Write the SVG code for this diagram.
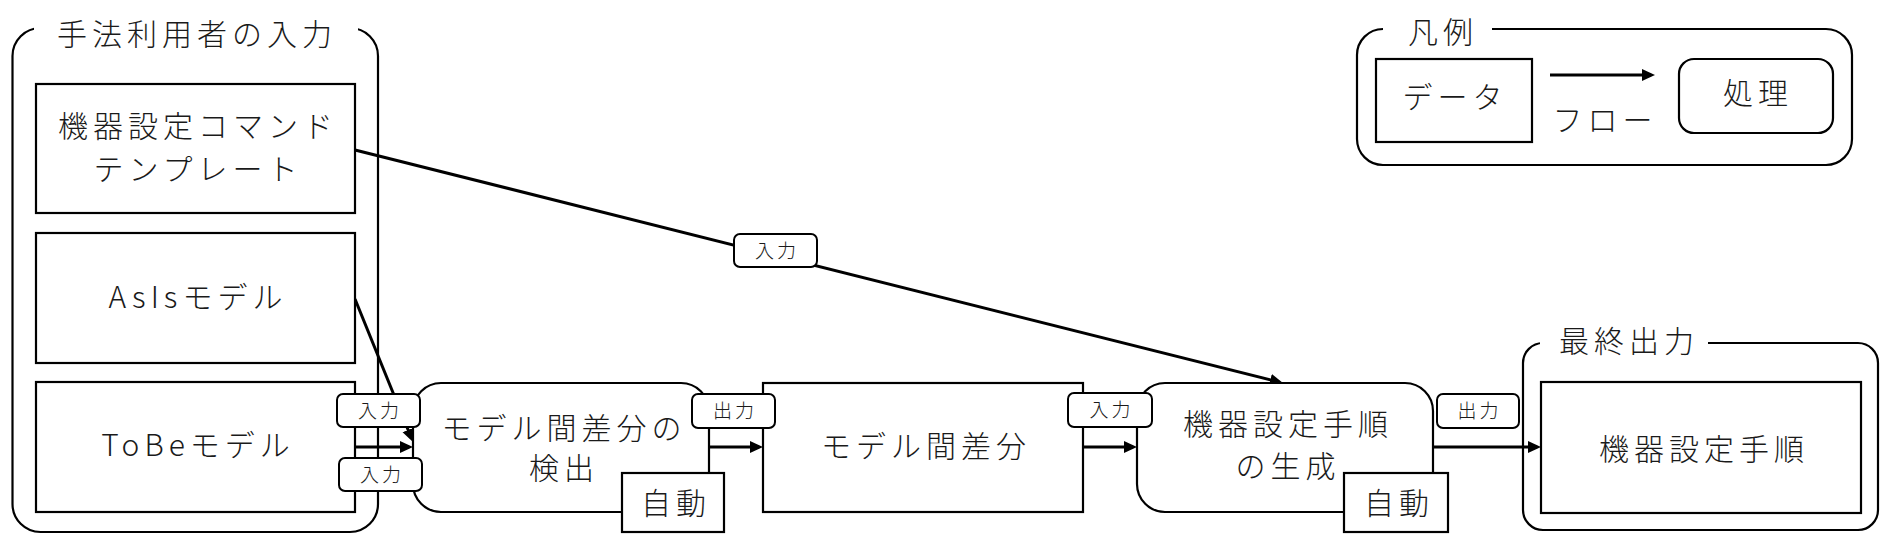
<svg xmlns="http://www.w3.org/2000/svg" width="1890" height="544" viewBox="0 0 1890 544">
<style>
.box{fill:#fff;stroke:#000;stroke-width:2.2}
.grp{fill:none;stroke:#000;stroke-width:2.2}
.t{font-family:"Noto Sans CJK JP","Noto Sans",sans-serif;font-size:30px;font-weight:300;letter-spacing:5px;fill:#1a1a1a;text-anchor:middle}
.lb{fill:#fff;stroke:#000;stroke-width:2}
.lt{font-family:"Noto Sans CJK JP","Noto Sans",sans-serif;font-size:19px;font-weight:300;letter-spacing:3px;fill:#1a1a1a;text-anchor:middle}
.c{fill:none;stroke:#000;stroke-width:3}
.bg{fill:#fff;stroke:none}
</style>
<defs>
<marker id="ah" markerUnits="userSpaceOnUse" markerWidth="16" markerHeight="14" refX="9" refY="6" orient="auto">
<path d="M0,0 L13,6 L0,12 z" fill="#000"/>
</marker>
</defs>
<rect width="1890" height="544" fill="#fff"/>

<g id="group-input">
<rect class="grp" x="12.5" y="28" width="365.5" height="504" rx="28"/>
<rect class="bg" x="34" y="14" width="324" height="28"/>
<text class="t" x="197" y="45">手法利用者の入力</text>
</g>

<g id="group-output">
<rect class="grp" x="1523" y="343" width="355" height="187" rx="20"/>
<rect class="bg" x="1540" y="330" width="168" height="26"/>
<text class="t" x="1629" y="352">最終出力</text>
</g>

<g id="legend">
<rect class="grp" x="1357" y="29" width="495" height="136" rx="26"/>
<rect class="bg" x="1383" y="16" width="109" height="26"/>
<text class="t" x="1443" y="43">凡例</text>
<rect class="box" x="1376" y="59" width="156" height="83"/>
<text class="t" x="1455" y="108">データ</text>
<line class="c" x1="1550" y1="75" x2="1651" y2="75" marker-end="url(#ah)"/>
<text class="t" x="1605" y="131">フロー</text>
<rect class="box" x="1679" y="59" width="154" height="74" rx="15"/>
<text class="t" x="1758" y="104">処理</text>
</g>

<g id="connectors">
<line class="c" x1="355" y1="150" x2="1279.1" y2="382" marker-end="url(#ah)"/>
<line class="c" x1="355" y1="299" x2="411.5" y2="438.3" marker-end="url(#ah)"/>
<line class="c" x1="355" y1="447" x2="409" y2="447" marker-end="url(#ah)"/>
<line class="c" x1="709" y1="447" x2="759" y2="447" marker-end="url(#ah)"/>
<line class="c" x1="1083" y1="447" x2="1133" y2="447" marker-end="url(#ah)"/>
<line class="c" x1="1433" y1="447" x2="1537" y2="447" marker-end="url(#ah)"/>
</g>

<g id="node-template">
<rect class="box" x="36" y="84" width="319" height="129"/>
<text class="t" x="198" y="137">機器設定コマンド</text>
<text class="t" x="198" y="180">テンプレート</text>
</g>

<g id="node-asis">
<rect class="box" x="36" y="233" width="319" height="130"/>
<text class="t" x="198" y="308">AsIsモデル</text>
</g>

<g id="node-tobe">
<rect class="box" x="36" y="382" width="319" height="130"/>
<text class="t" x="198" y="456">ToBeモデル</text>
</g>

<g id="node-detect">
<rect class="box" x="413" y="383" width="296" height="129" rx="28"/>
<text class="t" x="564" y="439">モデル間差分の</text>
<text class="t" x="564" y="479">検出</text>
</g>
<g id="node-detect-auto">
<rect class="box" x="622" y="473" width="102" height="59"/>
<text class="t" x="676" y="514">自動</text>
</g>

<g id="node-diff">
<rect class="box" x="763" y="383" width="320" height="129"/>
<text class="t" x="926" y="457">モデル間差分</text>
</g>

<g id="node-generate">
<rect class="box" x="1137" y="383" width="296" height="129" rx="28"/>
<text class="t" x="1288" y="435">機器設定手順</text>
<text class="t" x="1288" y="477">の生成</text>
</g>
<g id="node-generate-auto">
<rect class="box" x="1344" y="473" width="104" height="59"/>
<text class="t" x="1399" y="514">自動</text>
</g>

<g id="node-procedure">
<rect class="box" x="1541" y="382" width="320" height="131"/>
<text class="t" x="1704" y="460">機器設定手順</text>
</g>

<g id="labels">
<rect class="lb" x="734" y="234" width="83" height="33" rx="6"/>
<text class="lt" x="777" y="257.5">入力</text>
<rect class="lb" x="337" y="394" width="83" height="33" rx="6"/>
<text class="lt" x="380" y="417.5">入力</text>
<rect class="lb" x="339" y="458" width="83" height="33" rx="6"/>
<text class="lt" x="382" y="481.5">入力</text>
<rect class="lb" x="692" y="394" width="83" height="34" rx="6"/>
<text class="lt" x="735" y="418">出力</text>
<rect class="lb" x="1068" y="393" width="84" height="34" rx="6"/>
<text class="lt" x="1111.5" y="417">入力</text>
<rect class="lb" x="1437" y="394" width="82" height="34" rx="6"/>
<text class="lt" x="1479.5" y="418">出力</text>
</g>
</svg>
